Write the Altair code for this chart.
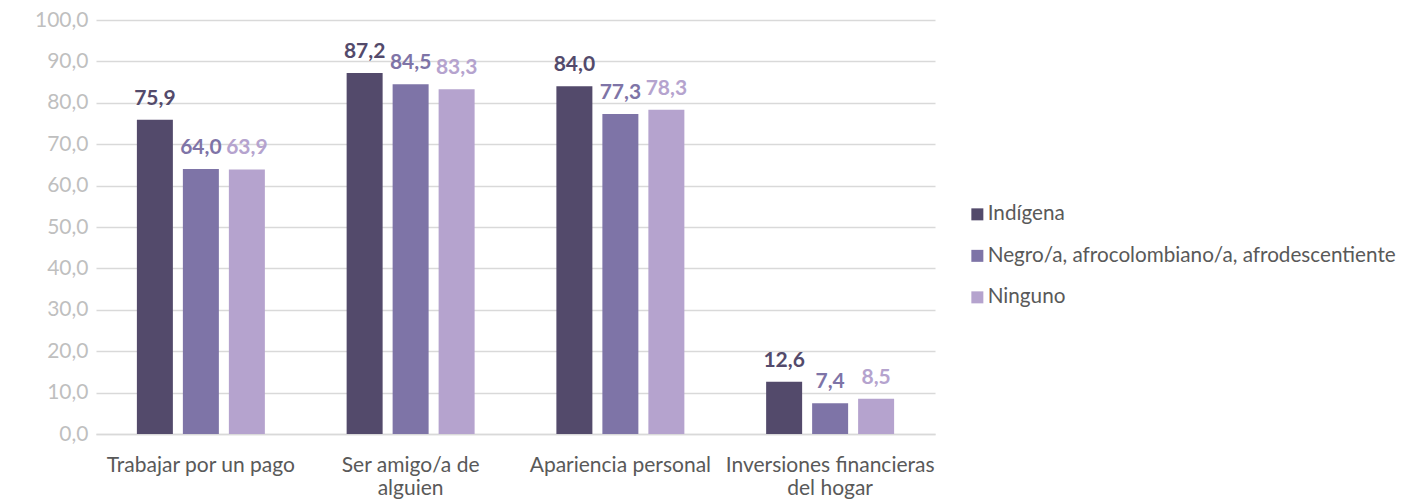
import altair as alt
import pandas as pd

categories = ["Trabajar por un pago", "Ser amigo/a de alguien", "Apariencia personal", "Inversiones financieras del hogar"]
series = ["Indígena", "Negro/a, afrocolombiano/a, afrodescentiente", "Ninguno"]
indigena = [75.9, 87.2, 84.0, 12.6]
negro = [64.0, 84.5, 77.3, 7.4]
ninguno = [63.9, 83.3, 78.3, 8.5]
colors = ["#534a6b", "#7e74a7", "#b5a3ce"]
y_ticks = [0, 10, 20, 30, 40, 50, 60, 70, 80, 90, 100]

rows = []
for s, vals in zip(series, [indigena, negro, ninguno]):
    for c, v in zip(categories, vals):
        rows.append({"categoria": c, "grupo": s, "valor": v})
df = pd.DataFrame(rows)

FONT = "Lato"

label_expr = (
    "datum.label == 'Ser amigo/a de alguien' ? ['Ser amigo/a de', 'alguien'] : "
    "datum.label == 'Inversiones financieras del hogar' ? ['Inversiones financieras', 'del hogar'] : datum.label"
)

x = alt.X("categoria:N", sort=categories, title=None,
          scale=alt.Scale(paddingInner=0, paddingOuter=0),
          axis=alt.Axis(labelAngle=0, labelExpr=label_expr, labelFont=FONT, labelFontSize=21,
                        labelColor="#595959", labelPadding=20, labelLineHeight=23, grid=False,
                        ticks=False, domainColor="#d9d9d9", domainWidth=1.3, labelLimit=400))
xo = alt.XOffset("grupo:N", sort=series,
                 scale=alt.Scale(paddingInner=0.2174, paddingOuter=0.889))
color = alt.Color("grupo:N", sort=series,
                  scale=alt.Scale(domain=series, range=colors),
                  legend=alt.Legend(title=None, orient="none", legendX=871, legendY=184,
                                    symbolType="square", symbolSize=144, symbolStrokeWidth=0,
                                    labelFont=FONT, labelFontSize=20.7, labelColor="#595959",
                                    labelOffset=0, rowPadding=19.5, padding=0, labelLimit=500))

y = alt.Y("valor:Q", title=None,
          scale=alt.Scale(domain=[0, 100], nice=False),
          axis=alt.Axis(values=y_ticks, labelExpr="replace(format(datum.value, '.1f'), '.', ',')",
                        labelFont=FONT, labelFontSize=21, labelColor="#bfbfbf", labelPadding=8,
                        ticks=False, domain=False, gridColor="#d9d9d9", gridWidth=1.3))

base = alt.Chart(df)
bars = base.mark_bar().encode(x=x, xOffset=xo, y=y, color=color)
text = base.transform_calculate(
    etiqueta="replace(format(datum.valor, '.1f'), '.', ',')"
).mark_text(font=FONT, fontSize=21, fontWeight="bold", baseline="alphabetic", dy=-15).encode(
    x=x, xOffset=xo, y=y, text="etiqueta:N",
    color=alt.Color("grupo:N", sort=series, scale=alt.Scale(domain=series, range=colors), legend=None)
)

chart = (bars + text).properties(
    width=839, height=414,
    autosize=alt.AutoSizeParams(type="none"),
    padding={"left": 88, "top": 12, "right": 464, "bottom": 65},
).configure(background="white").configure_view(stroke="transparent", strokeWidth=0)

chart.save("out.html", embed_options={"renderer": "svg", "actions": False})
